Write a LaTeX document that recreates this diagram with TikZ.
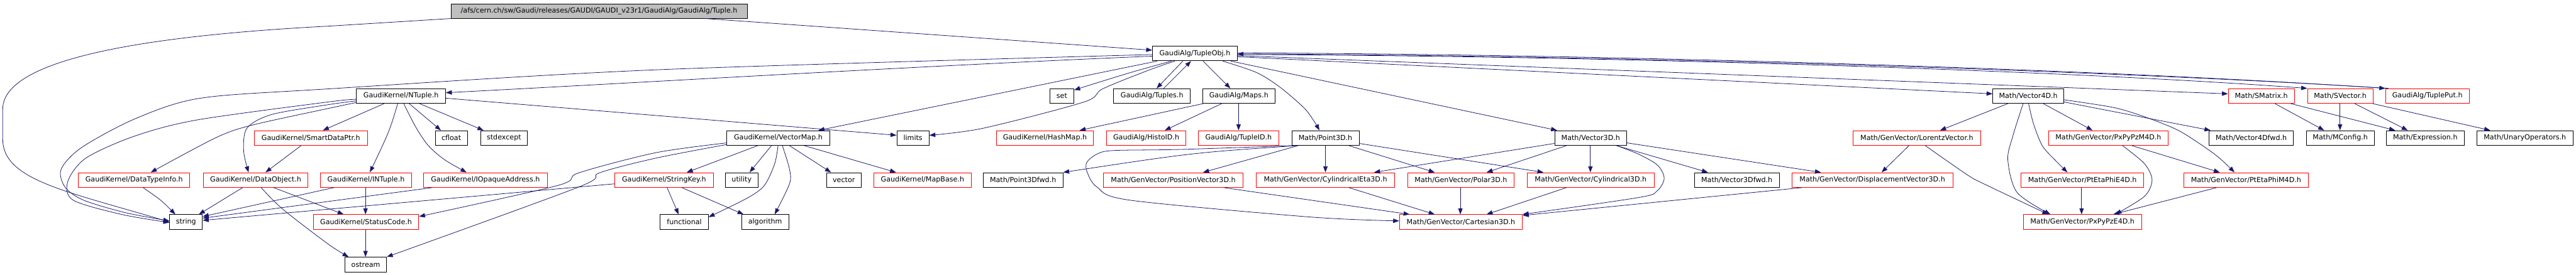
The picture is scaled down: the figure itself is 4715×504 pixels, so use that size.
\documentclass[tikz,border=0pt]{standalone}
\usepackage{fontspec}
\setmainfont{DejaVu Sans}
\usetikzlibrary{arrows.meta}
\definecolor{edgec}{HTML}{191970}
\definecolor{redc}{HTML}{FF0000}
\definecolor{grayc}{HTML}{BFBFBF}
\begin{document}
\begin{tikzpicture}[x=1pt,y=-1pt,
  bk/.style={draw=black, line width=1pt, minimum height=27pt, inner sep=0pt, anchor=north west, font=\fontsize{12.8}{15}\selectfont},
  rd/.style={bk, draw=redc},
  edge/.style={draw=edgec, line width=0.9pt, -{Triangle[length=11pt,width=8pt]}}]
\useasboundingbox[fill=white] (0,0) rectangle (4715,504);
% row 0
\node[bk, fill=grayc, minimum width=542, minimum height=26] (top) at (825,7) {/afs/cern.ch/sw/Gaudi/releases/GAUDI/GAUDI\_v23r1/GaudiAlg/GaudiAlg/Tuple.h};
% row 1
\node[bk, minimum width=155] (TupleObj) at (2109,84) {GaudiAlg/TupleObj.h};
% row 2
\node[bk, minimum width=163] (NTuple) at (652,162) {GaudiKernel/NTuple.h};
\node[bk, minimum width=44] (set) at (1921,162) {set};
\node[bk, minimum width=140] (Tuples) at (2038,162) {GaudiAlg/Tuples.h};
\node[bk, minimum width=132] (Maps) at (2201,162) {GaudiAlg/Maps.h};
\node[bk, minimum width=130] (Vector4D) at (3647,162) {Math/Vector4D.h};
\node[rd, minimum width=121] (SMatrix) at (4078,162) {Math/SMatrix.h};
\node[rd, minimum width=120] (SVector) at (4223,162) {Math/SVector.h};
\node[rd, minimum width=153] (TuplePut) at (4366,162) {GaudiAlg/TuplePut.h};
% row 3
\node[rd, minimum width=207] (SmartDataPtr) at (465,239) {GaudiKernel/SmartDataPtr.h};
\node[bk, minimum width=59] (cfloat) at (796,239) {cfloat};
\node[bk, minimum width=86] (stdexcept) at (879,239) {stdexcept};
\node[bk, minimum width=188] (VectorMap) at (1330,239) {GaudiKernel/VectorMap.h};
\node[bk, minimum width=59] (limits) at (1641,239) {limits};
\node[rd, minimum width=178] (HashMap) at (1823,239) {GaudiKernel/HashMap.h};
\node[rd, minimum width=145] (HistoID) at (2025,239) {GaudiAlg/HistoID.h};
\node[rd, minimum width=147] (TupleID) at (2193,239) {GaudiAlg/TupleID.h};
\node[bk, minimum width=123] (Point3D) at (2364,239) {Math/Point3D.h};
\node[bk, minimum width=132] (Vector3D) at (2845,239) {Math/Vector3D.h};
\node[rd, minimum width=234] (LorentzVector) at (3391,239) {Math/GenVector/LorentzVector.h};
\node[rd, minimum width=219] (PxPyPzM4D) at (3749,239) {Math/GenVector/PxPyPzM4D.h};
\node[bk, minimum width=154] (Vector4Dfwd) at (4043,239) {Math/Vector4Dfwd.h};
\node[bk, minimum width=124] (MConfig) at (4221,239) {Math/MConfig.h};
\node[bk, minimum width=143] (Expression) at (4367,239) {Math/Expression.h};
\node[bk, minimum width=176] (UnaryOperators) at (4533,239) {Math/UnaryOperators.h};
% row 4
\node[rd, minimum width=204] (DataTypeInfo) at (143,316) {GaudiKernel/DataTypeInfo.h};
\node[rd, minimum width=191] (DataObject) at (372,316) {GaudiKernel/DataObject.h};
\node[rd, minimum width=167] (INTuple) at (586,316) {GaudiKernel/INTuple.h};
\node[rd, minimum width=226] (IOpaqueAddress) at (775,316) {GaudiKernel/IOpaqueAddress.h};
\node[rd, minimum width=180] (StringKey) at (1125,316) {GaudiKernel/StringKey.h};
\node[bk, minimum width=60] (utility) at (1327,316) {utility};
\node[bk, minimum width=64] (vector) at (1512,316) {vector};
\node[rd, minimum width=178] (MapBase) at (1599,316) {GaudiKernel/MapBase.h};
\node[bk, minimum width=146] (Point3Dfwd) at (1799,316) {Math/Point3Dfwd.h};
\node[rd, minimum width=256] (PositionVector3D) at (2019,316) {Math/GenVector/PositionVector3D.h};
\node[rd, minimum width=253] (CylindricalEta3D) at (2299,316) {Math/GenVector/CylindricalEta3D.h};
\node[rd, minimum width=195] (Polar3D) at (2576,316) {Math/GenVector/Polar3D.h};
\node[rd, minimum width=232] (Cylindrical3D) at (2795,316) {Math/GenVector/Cylindrical3D.h};
\node[bk, minimum width=155] (Vector3Dfwd) at (3101,316) {Math/Vector3Dfwd.h};
\node[rd, minimum width=295] (DisplacementVector3D) at (3279,316) {Math/GenVector/DisplacementVector3D.h};
\node[rd, minimum width=224] (PtEtaPhiE4D) at (3699,316) {Math/GenVector/PtEtaPhiE4D.h};
\node[rd, minimum width=227] (PtEtaPhiM4D) at (3997,316) {Math/GenVector/PtEtaPhiM4D.h};
% row 5
\node[bk, minimum width=60] (string) at (310,393) {string};
\node[rd, minimum width=193] (StatusCode) at (573,393) {GaudiKernel/StatusCode.h};
\node[bk, minimum width=88] (functional) at (1208,393) {functional};
\node[bk, minimum width=86] (algorithm) at (1357,393) {algorithm};
\node[rd, minimum width=225] (Cartesian3D) at (2561,393) {Math/GenVector/Cartesian3D.h};
\node[rd, minimum width=216] (PxPyPzE4D) at (3703,393) {Math/GenVector/PxPyPzE4D.h};
% row 6
\node[bk, minimum width=76] (ostream) at (631,471) {ostream};

% ---- edges from Tuple.h
\draw[edge] (top.south west) -- (600,48) .. controls (180,70) and (5,125) .. (5,200) -- (5,255) .. controls (5,330) and (120,350) .. (string.west);
\draw[edge] (top.south -| 1291,0) -- (TupleObj.west |- 0,92);
% ---- edges from TupleObj
\draw[edge] plot[smooth, tension=0.5] coordinates {(TupleObj.west |- 0,100) (1200,128) (600,163) (367,180) (249,217) (150,270) (112,310) (119,343) (153,367) (230,390) (string.west |- 0,405)};
\draw[edge] (TupleObj.west |- 0,103) .. controls (1700,120) and (1200,150) .. (NTuple.east |- 0,170);
\draw[edge] (TupleObj.south -| 2118,0) -- (VectorMap.north -| 1498,0);
\draw[edge] (TupleObj.south -| 2144,0) .. controls (2068,133) .. (set.east |- 0,165);
\draw[edge] plot[smooth, tension=0.5] coordinates {(TupleObj.south -| 2150,0) (2099,130) (2018,163) (1984,187) (1800,235) (limits.east |- 0,248)};
\draw[edge] (TupleObj.south -| 2165,0) -- (Tuples.north -| 2117,0);
\draw[edge] (Tuples.north -| 2130,0) -- (TupleObj.south -| 2180,0);
\draw[edge] (TupleObj.south -| 2202,0) -- (Maps.north -| 2252,0);
\draw[edge] plot[smooth, tension=0.5] coordinates {(TupleObj.south -| 2238,0) (2300,133) (2343,160) (2387,198) (2405,222) (Point3D.north -| 2415,0)};
\draw[edge] (TupleObj.south -| 2253,0) -- (Vector3D.north -| 2850,0);
\draw[edge] (TupleObj.east |- 0,104) -- (Vector4D.west |- 0,172);
\draw[edge] (TupleObj.east |- 0,102) -- (SMatrix.west |- 0,172);
\draw[edge] (TupleObj.east |- 0,100) .. controls (2900,102) and (3750,127) .. (SVector.north west);
\draw[edge] (TupleObj.east |- 0,97) .. controls (2900,99) and (3800,124) .. (TuplePut.north west);
\draw[edge] ([xshift=6]TuplePut.north west) .. controls (3800,126) and (2900,101) .. (TupleObj.east |- 0,99);
% ---- NTuple
\draw[edge] (NTuple.south -| 703,0) -- (SmartDataPtr.north -| 591,0);
\draw[edge] (NTuple.south -| 728,0) .. controls (713,240) .. (INTuple.north -| 677,0);
\draw[edge] plot[smooth, tension=0.5] coordinates {(NTuple.south -| 739,0) (761,233) (784,267) (814,293) (IOpaqueAddress.north -| 854,0)};
\draw[edge] (NTuple.south -| 749,0) -- (cfloat.north -| 807,0);
\draw[edge] (NTuple.south -| 768,0) -- (stdexcept.north -| 885,0);
\draw[edge] (NTuple.east |- 0,180) -- (limits.west |- 0,248);
\draw[edge] plot[smooth, tension=0.5] coordinates {(NTuple.west |- 0,182) (600,187) (360,220) (245,250) (157,290) (124,333) (134,367) (222,393) (string.west |- 0,408)};
\draw[edge] plot[smooth, tension=0.5] coordinates {(NTuple.west |- 0,185) (600,192) (497,210) (452,235) (446,277) (DataObject.north -| 455,0)};
\draw[edge] plot[smooth, tension=0.5] coordinates {(NTuple.west |- 0,188) (600,199) (459,230) (394,253) (DataTypeInfo.north -| 276,0)};
% ---- Maps
\draw[edge] (Maps.south -| 2202,0) -- (HashMap.north -| 1976,0);
\draw[edge] (Maps.south -| 2236,0) -- (HistoID.north -| 2132,0);
\draw[edge] (Maps.south -| 2267,0) -- (TupleID.north -| 2267,0);
% ---- VectorMap
\draw[edge] (VectorMap.south -| 1387,0) -- (StringKey.north -| 1257,0);
\draw[edge] (VectorMap.south -| 1412,0) -- (utility.north -| 1372,0);
\draw[edge] plot[smooth, tension=0.5] coordinates {(VectorMap.south -| 1424,0) (1418,300) (1399,340) (1368,363) (functional.east |- 0,398)};
\draw[edge] plot[smooth, tension=0.5] coordinates {(VectorMap.south -| 1432,0) (1445,310) (1445,337) (algorithm.north -| 1418,0)};
\draw[edge] (VectorMap.south -| 1445,0) -- (vector.north -| 1521,0);
\draw[edge] (VectorMap.south -| 1472,0) -- (MapBase.north -| 1640,0);
\draw[edge] plot[smooth, tension=0.5] coordinates {(VectorMap.west |- 0,262) (1200,280) (1059,317) (1021,340) (StatusCode.east |- 0,397)};
\draw[edge] plot[smooth, tension=0.5] coordinates {(VectorMap.west |- 0,265) (1200,290) (1097,317) (1059,343) (ostream.north east)};
% ---- StringKey
\draw[edge] (StringKey.south -| 1221,0) -- (functional.north -| 1242,0);
\draw[edge] (StringKey.south -| 1248,0) -- (algorithm.north -| 1361,0);
\draw[edge] (StringKey.west |- 0,337) -- (string.east |- 0,404);
% ---- GaudiKernel left part
\draw[edge] (INTuple.south -| 611,0) -- (string.east |- 0,397);
\draw[edge] (IOpaqueAddress.south -| 791,0) -- (string.east |- 0,400);
\draw[edge] (INTuple.south -| 669,0) -- (StatusCode.north -| 669,0);
\draw[edge] (StatusCode.south -| 669,0) -- (ostream.north -| 669,0);
\draw[edge] (DataTypeInfo.south -| 262,0) .. controls (295,367) .. (string.north -| 321,0);
\draw[edge] (DataObject.south -| 444,0) -- (string.north -| 364,0);
\draw[edge] (DataObject.south -| 501,0) -- (StatusCode.north -| 629,0);
\draw[edge] plot[smooth, tension=0.5] coordinates {(DataObject.south -| 478,0) (517,383) (600,447) (ostream.north -| 638,0)};
\draw[edge] (SmartDataPtr.south -| 551,0) -- (DataObject.north -| 486,0);
% ---- Point3D
\draw[edge] (Point3D.south -| 2374,0) .. controls (2183,280) .. (Point3Dfwd.north east);
\draw[edge] plot[smooth, tension=0.5] coordinates {(Point3D.south west) (2160,274) (2037,276) (2007,283) (1989,298) (1990,316) (2008,343) (2068,367) (2400,398) (Cartesian3D.west |- 0,405)};
\draw[edge] (Point3D.south -| 2376,0) -- (PositionVector3D.north -| 2202,0);
\draw[edge] (Point3D.south -| 2426,0) -- (CylindricalEta3D.north -| 2426,0);
\draw[edge] (Point3D.south -| 2469,0) -- (Polar3D.north -| 2626,0);
\draw[edge] (Point3D.east |- 0,263) -- (Cylindrical3D.north -| 2825,0);
% ---- 3D to Cartesian
\draw[edge] (PositionVector3D.south -| 2240,0) -- (Cartesian3D.north -| 2580,0);
\draw[edge] (CylindricalEta3D.south -| 2469,0) -- (Cartesian3D.north -| 2626,0);
\draw[edge] (Polar3D.south -| 2673,0) -- (Cartesian3D.north -| 2673,0);
\draw[edge] (Cylindrical3D.south -| 2867,0) -- (Cartesian3D.north -| 2721,0);
\draw[edge] (DisplacementVector3D.south -| 3298,0) -- (Cartesian3D.east |- 0,395);
% ---- Vector3D
\draw[edge] (Vector3D.west |- 0,263) -- (CylindricalEta3D.north -| 2515,0);
\draw[edge] (Vector3D.south -| 2867,0) -- (Polar3D.north -| 2721,0);
\draw[edge] (Vector3D.south -| 2911,0) -- (Cylindrical3D.north -| 2911,0);
\draw[edge] plot[smooth, tension=0.5] coordinates {(Vector3D.south -| 2959,0) (3000,283) (3034,303) (3046,327) (3033,350) (3000,362) (Cartesian3D.east |- 0,393)};
\draw[edge] (Vector3D.south -| 2959,0) -- (Vector3Dfwd.north -| 3126,0);
\draw[edge] (Vector3D.east |- 0,262) -- (DisplacementVector3D.north -| 3333,0);
% ---- LorentzVector
\draw[edge] (LorentzVector.south -| 3494,0) -- (DisplacementVector3D.north -| 3444,0);
\draw[edge] plot[smooth, tension=0.5] coordinates {(LorentzVector.south -| 3524,0) (3600,320) (3631,337) (PxPyPzE4D.north -| 3749,0)};
% ---- Vector4D
\draw[edge] (Vector4D.south -| 3675,0) -- (LorentzVector.north -| 3551,0);
\draw[edge] plot[smooth, tension=0.5] coordinates {(Vector4D.south -| 3703,0) (3684,250) (3675,293) (3692,353) (PxPyPzE4D.north -| 3753,0)};
\draw[edge] plot[smooth, tension=0.5] coordinates {(Vector4D.south -| 3713,0) (3722,227) (3738,267) (3761,293) (PtEtaPhiE4D.north -| 3784,0)};
\draw[edge] (Vector4D.south -| 3740,0) -- (PxPyPzM4D.north -| 3830,0);
\draw[edge] (Vector4D.east |- 0,187) -- (Vector4Dfwd.north -| 4046,0);
\draw[edge] plot[smooth, tension=0.5] coordinates {(Vector4D.east |- 0,183) (3868,197) (3925,214) (3983,237) (4021,260) (4059,287) (PtEtaPhiM4D.north -| 4090,0)};
% ---- 4D
\draw[edge] plot[smooth, tension=0.5] coordinates {(PxPyPzM4D.south -| 3885,0) (3925,300) (3939,330) (3925,360) (PxPyPzE4D.north -| 3872,0)};
\draw[edge] (PxPyPzM4D.south -| 3902,0) -- (PtEtaPhiM4D.north -| 4063,0);
\draw[edge] (PtEtaPhiE4D.south -| 3810,0) -- (PxPyPzE4D.north -| 3810,0);
\draw[edge] (PtEtaPhiM4D.south -| 4057,0) -- (PxPyPzE4D.north -| 3868,0);
% ---- SMatrix / SVector
\draw[edge] (SMatrix.south -| 4164,0) -- (MConfig.north -| 4254,0);
\draw[edge] (SMatrix.south -| 4193,0) -- (Expression.north -| 4384,0);
\draw[edge] (SVector.south -| 4283,0) -- (MConfig.north -| 4283,0);
\draw[edge] (SVector.south -| 4310,0) -- (Expression.north -| 4407,0);
\draw[edge] (SVector.south -| 4343,0) -- (UnaryOperators.north -| 4558,0);
\end{tikzpicture}
\end{document}
